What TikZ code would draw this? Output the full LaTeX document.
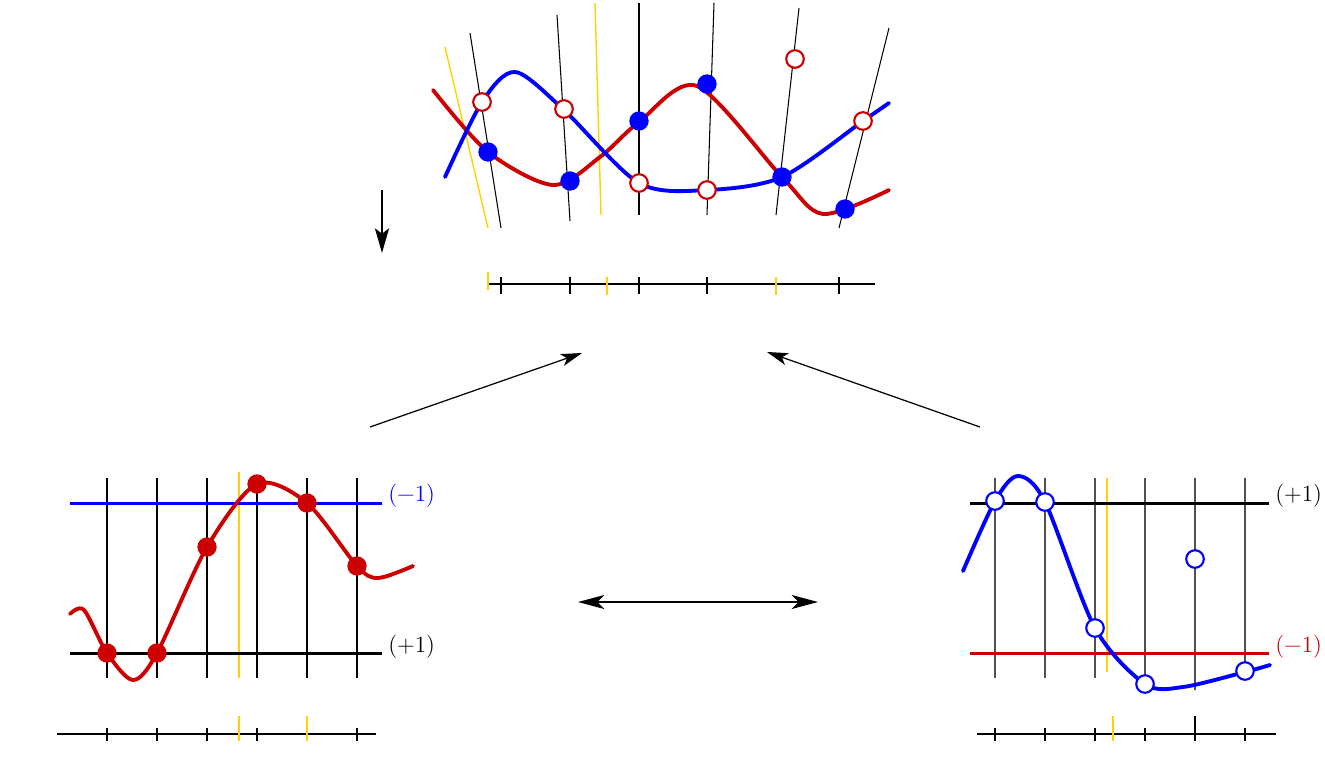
\documentclass[tikz,border=0pt]{standalone}
\usepackage{fontspec}
\usetikzlibrary{arrows.meta}
\definecolor{cred}{RGB}{204,0,0}
\definecolor{cblue}{RGB}{0,0,255}
\definecolor{cyel}{RGB}{255,210,0}
\definecolor{cgray}{RGB}{80,80,80}
\tikzset{
 thinl/.style={line width=0.6pt},
 curvel/.style={line width=2.2pt, line cap=round},
 hlinel/.style={line width=1.7pt},
 axisl/.style={line width=1.6pt},
 tickl/.style={line width=1.5pt},
 ylw/.style={draw=cyel, line width=0.8pt},
 ytick/.style={draw=cyel, line width=1.5pt},
 fdot/.style={circle, minimum size=11pt, inner sep=0pt, fill=#1},
 odot/.style={circle, minimum size=10pt, inner sep=0pt, fill=white, draw=#1, line width=1.2pt},
 conn/.style={-{Stealth[length=12pt,width=7pt,inset=3pt]}, line width=0.7pt},
 lbl/.style={anchor=west, inner sep=0pt, font=\fontsize{13.2}{16}\selectfont},
}
\begin{document}
\begin{tikzpicture}[x=0.02cm,y=-0.02cm]
\useasboundingbox (0,0) rectangle (1325,781);
% ================= top diagram =================
\draw[ylw] (445,47) -- (488,228);
\draw[ylw] (595,3) -- (601,215);
\draw[thinl] (470,33) -- (501,228);
\draw[thinl] (557,15) -- (570,221);
\draw[thinl] (639,3) -- (639,215);
\draw[thinl] (714,3) -- (707,215);
\draw[thinl] (799,8) -- (776,215);
\draw[thinl] (889,28) -- (839,228);
\draw[curvel, cred] plot[smooth] coordinates {(433,90) (488,152) (553,185) (600,157) (639,122) (697,86) (782,177) (823,214) (889,190)};
\draw[curvel, cblue] plot[smooth] coordinates {(445,177) (482,102) (515,72) (563,109) (639,183) (707,190) (782,177) (863,121) (889,103)};
\node[odot=cred] (t1) at (482,102) {};
\node[odot=cred] (t2) at (564,109) {};
\node[odot=cred] (t3) at (639,183) {};
\node[odot=cred] (t4) at (707,190) {};
\node[odot=cred] (t5) at (795,59) {};
\node[odot=cred] (t6) at (863,121) {};
\node[fdot=cblue] (u1) at (488,152) {};
\node[fdot=cblue] (u2) at (570,181) {};
\node[fdot=cblue] (u3) at (639,121) {};
\node[fdot=cblue] (u4) at (707,84) {};
\node[fdot=cblue] (u5) at (782,177) {};
\node[fdot=cblue] (u6) at (845,209) {};
% top axis
\draw[axisl] (488,284) -- (875,284);
\foreach \x in {501,570,639,707,839} \draw[tickl] (\x,277) -- (\x,294);
\draw[ytick] (488,272) -- (488,290);
\draw[ytick] (607,277) -- (607,295);
\draw[ytick] (776,277) -- (776,295);
% down arrow
\coordinate (da1) at (382,190);
\coordinate (da2) at (382,253);
\draw[-{Stealth[length=14pt,width=8pt,inset=3pt]}, line width=1.3pt] (da1) -- (da2);
% ================= bottom left =================
\draw[ylw] (239,472) -- (239,678);
\foreach \x in {107,157,207,257,307,357} \draw[thinl] (\x,478) -- (\x,678);
\draw[hlinel, cblue] (70,503) -- (382,503);
\draw[hlinel] (70,653) -- (382,653);
\node[lbl, text=cblue] (lm1) at (388,496) {(−1)};
\node[lbl] (lp1) at (388,647) {(+1)};
\draw[curvel, cred] plot[smooth] coordinates {(70,614) (84,610) (107,653) (133,680) (157,653) (207,547) (257,484) (307,503) (357,566) (378,578) (413,566)};
\node[fdot=cred] (l1) at (107,653) {};
\node[fdot=cred] (l2) at (157,653) {};
\node[fdot=cred] (l3) at (207,547) {};
\node[fdot=cred] (l4) at (257,484) {};
\node[fdot=cred] (l5) at (307,503) {};
\node[fdot=cred] (l6) at (357,566) {};
\draw[axisl] (57,734) -- (376,734);
\foreach \x in {107,157,207,257,307,357} \draw[tickl] (\x,728) -- (\x,741);
\draw[ytick] (239,716) -- (239,741);
\draw[ytick] (307,716) -- (307,741);
% ================= bottom right =================
\draw[ylw] (1107,478) -- (1107,672);
\foreach \x in {995,1045,1095,1145,1245} \draw[thinl, cgray] (\x,478) -- (\x,678);
\draw[thinl, cgray] (1195,478) -- (1195,690);
\draw[hlinel] (970,503) -- (1269,503);
\draw[hlinel, cred] (970,653) -- (1269,653);
\node[lbl] (rp1) at (1275,496) {(+1)};
\node[lbl, text=cred] (rm1) at (1275,647) {(−1)};
\draw[curvel, cblue] plot[smooth] coordinates {(963,571) (995,501) (1018,476) (1045,502) (1095,628) (1145,684) (1183,687) (1245,672) (1270,665)};
\node[odot=cblue] (r1) at (995,501) {};
\node[odot=cblue] (r2) at (1045,502) {};
\node[odot=cblue] (r3) at (1095,628) {};
\node[odot=cblue] (r4) at (1145,684) {};
\node[odot=cblue] (r5) at (1195,559) {};
\node[odot=cblue] (r6) at (1245,671) {};
\draw[axisl] (977,734) -- (1276,734);
\foreach \x in {995,1045,1095,1145,1245} \draw[tickl] (\x,728) -- (\x,741);
\draw[tickl] (1195,716) -- (1195,741);
\draw[ytick] (1113,716) -- (1113,741);
% ================= connecting arrows =================
\coordinate (a1s) at (370,427);
\coordinate (a1e) at (582,353);
\coordinate (a2s) at (980,427);
\coordinate (a2e) at (767,352);
\coordinate (a3s) at (578,602);
\coordinate (a3e) at (818,602);
\draw[conn] (a1s) -- (a1e);
\draw[conn] (a2s) -- (a2e);
\draw[{Stealth[length=15pt,width=8pt,inset=4pt]}-{Stealth[length=15pt,width=8pt,inset=4pt]}, line width=0.7pt] (a3s) -- (a3e);
\end{tikzpicture}
\end{document}
